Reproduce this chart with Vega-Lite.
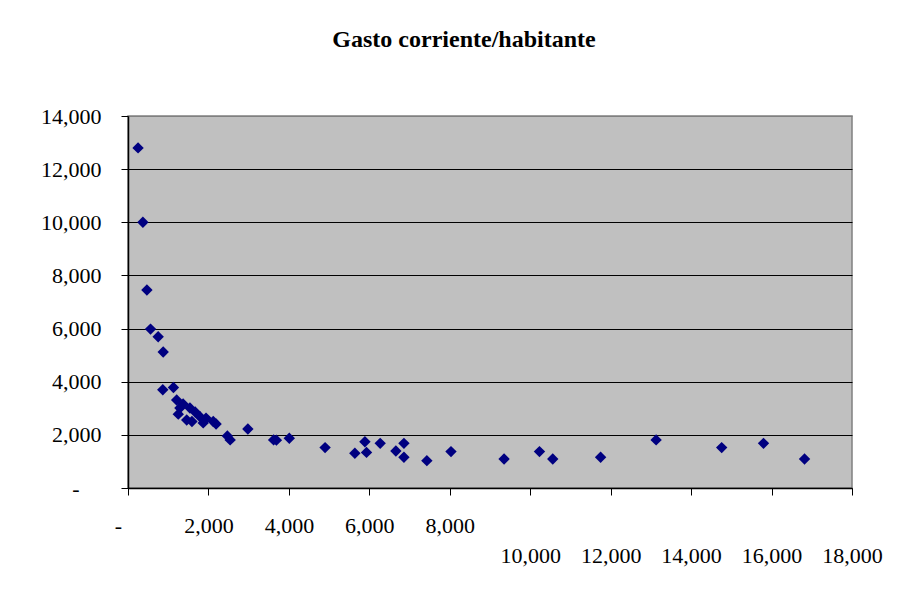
{
  "$schema": "https://vega.github.io/schema/vega-lite/v6.json",
  "autosize": "none",
  "width": 724,
  "height": 372,
  "padding": {"left": 128, "top": 116, "right": 45, "bottom": 104},
  "background": "white",
  "title": {
    "text": "Gasto corriente/habitante",
    "font": "Liberation Serif",
    "fontSize": 24,
    "fontWeight": "bold",
    "color": "black",
    "baseline": "alphabetic",
    "offset": 34,
    "dx": -26
  },
  "config": {
    "view": {"fill": "#C0C0C0", "stroke": "#808080", "strokeWidth": 1.5},
    "axis": {"labelFont": "Liberation Serif", "labelFontSize": 22, "labelColor": "black", "domainColor": "black", "tickColor": "black", "tickSize": 7, "domainWidth": 1.5}
  },
  "data": {
    "values": [
      {"poblacion": 250, "gasto": 12800},
      {"poblacion": 370, "gasto": 10000},
      {"poblacion": 470, "gasto": 7450},
      {"poblacion": 560, "gasto": 5980},
      {"poblacion": 750, "gasto": 5690},
      {"poblacion": 875, "gasto": 5120},
      {"poblacion": 865, "gasto": 3700},
      {"poblacion": 1130, "gasto": 3780},
      {"poblacion": 1210, "gasto": 3310},
      {"poblacion": 1290, "gasto": 3010},
      {"poblacion": 1250, "gasto": 2780},
      {"poblacion": 1370, "gasto": 3160},
      {"poblacion": 1540, "gasto": 3010},
      {"poblacion": 1460, "gasto": 2560},
      {"poblacion": 1590, "gasto": 2500},
      {"poblacion": 1670, "gasto": 2860},
      {"poblacion": 1790, "gasto": 2680},
      {"poblacion": 1870, "gasto": 2450},
      {"poblacion": 1940, "gasto": 2630},
      {"poblacion": 2120, "gasto": 2500},
      {"poblacion": 2190, "gasto": 2410},
      {"poblacion": 2470, "gasto": 1960},
      {"poblacion": 2540, "gasto": 1810},
      {"poblacion": 2980, "gasto": 2220},
      {"poblacion": 3620, "gasto": 1810},
      {"poblacion": 3690, "gasto": 1800},
      {"poblacion": 4010, "gasto": 1870},
      {"poblacion": 4900, "gasto": 1520},
      {"poblacion": 5640, "gasto": 1310},
      {"poblacion": 5890, "gasto": 1740},
      {"poblacion": 5930, "gasto": 1340},
      {"poblacion": 6270, "gasto": 1680},
      {"poblacion": 6660, "gasto": 1390},
      {"poblacion": 6860, "gasto": 1680},
      {"poblacion": 6860, "gasto": 1160},
      {"poblacion": 7430, "gasto": 1030},
      {"poblacion": 8030, "gasto": 1370},
      {"poblacion": 9350, "gasto": 1090},
      {"poblacion": 10230, "gasto": 1370},
      {"poblacion": 10560, "gasto": 1090},
      {"poblacion": 11750, "gasto": 1160},
      {"poblacion": 13130, "gasto": 1810},
      {"poblacion": 14760, "gasto": 1520},
      {"poblacion": 15800, "gasto": 1680},
      {"poblacion": 16820, "gasto": 1090}
    ]
  },
  "mark": {"type": "point", "shape": "diamond", "filled": true, "size": 130, "color": "#000080", "opacity": 1},
  "encoding": {
    "x": {
      "field": "poblacion",
      "type": "quantitative",
      "scale": {"domain": [0, 18000], "nice": false, "zero": true},
      "axis": {
        "title": null,
        "grid": false,
        "values": [0, 2000, 4000, 6000, 8000, 10000, 12000, 14000, 16000, 18000],
        "labelExpr": "datum.value == 0 ? '-' : format(datum.value, ',')",
        "labelBaseline": "top",
        "labelPadding": {"condition": {"test": "datum.value >= 10000", "value": 50}, "value": 20},
        "labelOffset": {"condition": {"test": "datum.value == 0", "value": -10}, "value": 0},
        "labelFlush": false,
        "labelOverlap": false
      }
    },
    "y": {
      "field": "gasto",
      "type": "quantitative",
      "scale": {"domain": [0, 14000], "nice": false},
      "axis": {
        "title": null,
        "grid": true,
        "gridColor": {"condition": {"test": "datum.value == 14000", "value": "#808080"}, "value": "black"},
        "gridWidth": 1.2,
        "values": [0, 2000, 4000, 6000, 8000, 10000, 12000, 14000],
        "labelExpr": "datum.value == 0 ? '-' : format(datum.value, ',')",
        "labelPadding": {"condition": {"test": "datum.value == 0", "value": 42}, "value": 20},
        "labelFlush": false,
        "labelOverlap": false
      }
    }
  }
}
